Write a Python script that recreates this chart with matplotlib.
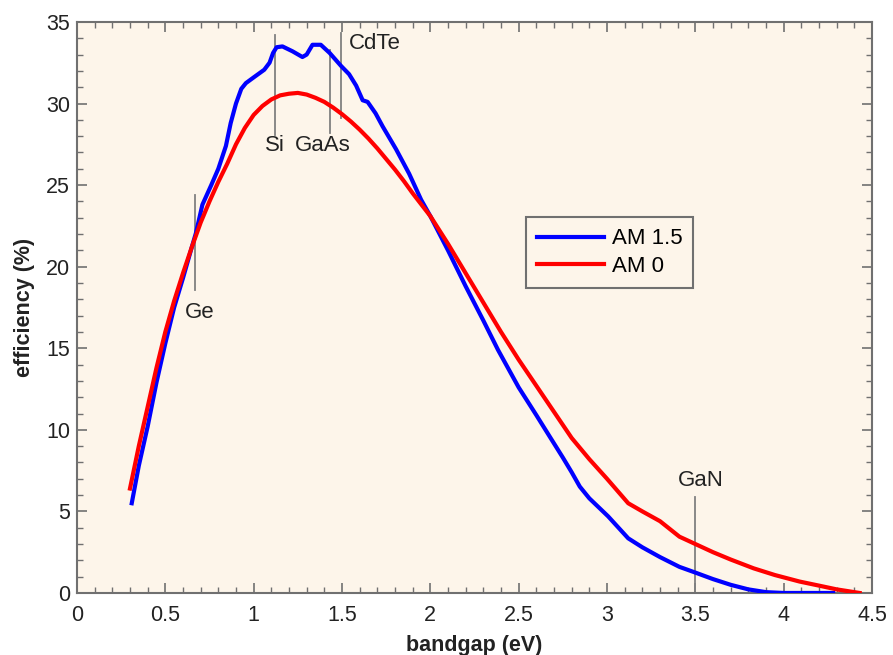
import matplotlib
matplotlib.use("Agg")
import matplotlib.pyplot as plt
from matplotlib.ticker import MultipleLocator
import numpy as np

plt.rcParams['font.family'] = ['Liberation Sans', 'DejaVu Sans']

# AM 1.5 efficiency vs bandgap
am15_x = [0.31, 0.35, 0.40, 0.45, 0.50, 0.55, 0.60, 0.65, 0.673, 0.71, 0.76, 0.80,
          0.843, 0.87, 0.90, 0.93, 0.956, 1.00, 1.06, 1.09, 1.11, 1.13, 1.163, 1.22,
          1.276, 1.30, 1.333, 1.38, 1.43, 1.495, 1.54, 1.58, 1.617, 1.645, 1.69,
          1.73, 1.806, 1.88, 1.948, 2.00, 2.10, 2.20, 2.30, 2.383, 2.50, 2.60,
          2.676, 2.75, 2.80, 2.846, 2.90, 3.006, 3.12, 3.20, 3.30, 3.41, 3.50,
          3.60, 3.70, 3.80, 3.90, 4.00, 4.28]
am15_y = [5.5, 7.8, 10.2, 12.9, 15.3, 17.5, 19.3, 21.2, 22.05, 23.8, 25.0, 26.0,
          27.4, 28.8, 30.0, 30.9, 31.25, 31.6, 32.07, 32.5, 33.1, 33.45, 33.5, 33.2,
          32.85, 33.0, 33.6, 33.6, 33.1, 32.3, 31.8, 31.1, 30.2, 30.1, 29.4,
          28.6, 27.2, 25.7, 24.1, 23.1, 21.0, 18.8, 16.7, 14.9, 12.6, 10.9,
          9.58, 8.3, 7.4, 6.52, 5.8, 4.7, 3.35, 2.8, 2.2, 1.6, 1.25,
          0.85, 0.5, 0.22, 0.05, 0.0, 0.0]

# AM 0 efficiency vs bandgap
am0_x = [0.30, 0.35, 0.40, 0.45, 0.50, 0.55, 0.60, 0.65, 0.70, 0.75, 0.80, 0.85,
         0.90, 0.95, 1.00, 1.05, 1.10, 1.15, 1.20, 1.25, 1.30, 1.35, 1.40, 1.45,
         1.50, 1.55, 1.60, 1.65, 1.70, 1.75, 1.80, 1.85, 1.90, 1.95, 2.00, 2.10,
         2.20, 2.30, 2.40, 2.50, 2.60, 2.70, 2.80, 2.90, 3.00, 3.12, 3.20, 3.30,
         3.41, 3.50, 3.60, 3.70, 3.83, 3.95, 4.09, 4.20, 4.30, 4.43]
am0_y = [6.4, 9.0, 11.4, 13.8, 16.0, 17.9, 19.6, 21.2, 22.7, 24.0, 25.2, 26.3,
         27.5, 28.5, 29.3, 29.85, 30.25, 30.5, 30.6, 30.65, 30.55, 30.35, 30.1, 29.75,
         29.35, 28.9, 28.4, 27.85, 27.25, 26.6, 25.95, 25.25, 24.5, 23.8, 23.1, 21.4,
         19.6, 17.8, 16.0, 14.3, 12.7, 11.1, 9.5, 8.2, 7.0, 5.5, 5.0, 4.4,
         3.45, 3.0, 2.5, 2.05, 1.51, 1.1, 0.7, 0.45, 0.22, 0.0]

# Material markers
mat_names = ['Ge', 'Si', 'GaAs', 'CdTe', 'GaN']
mat_gap = [0.67, 1.12, 1.43, 1.495, 3.5]
mat_lo = [18.6, 28.1, 28.2, 29.1, 0.0]
mat_hi = [24.4, 34.2, 33.3, 34.3, 5.9]
mat_lx = [0.695, 1.12, 1.39, 1.54, 3.53]
mat_ly = [17.2, 27.4, 27.4, 33.7, 6.9]
mat_ha = ['center', 'center', 'center', 'left', 'center']

FS = 16
fig = plt.figure(figsize=(8.93, 6.55), dpi=100)
ax = fig.add_axes([0.0862, 0.0947, 0.8903, 0.8718])
bg = '#FDF5EA'
ax.set_facecolor(bg)

for i in range(len(mat_names)):
    ax.plot([mat_gap[i], mat_gap[i]], [mat_lo[i], mat_hi[i]], color='#808080', lw=1.3, zorder=2)
    ax.text(mat_lx[i], mat_ly[i], mat_names[i], ha=mat_ha[i], va='center', fontsize=FS,
            color='#222222', zorder=4)

ax.plot(am15_x, am15_y, color='#0000FF', lw=3, label='AM 1.5', zorder=3,
        solid_joinstyle='round')
ax.plot(am0_x, am0_y, color='#FF0000', lw=3, label='AM 0', zorder=3,
        solid_joinstyle='round')

ax.set_xlim(0, 4.5)
ax.set_ylim(0, 35)
ax.xaxis.set_minor_locator(MultipleLocator(0.1))
ax.yaxis.set_major_locator(MultipleLocator(5))
ax.yaxis.set_minor_locator(MultipleLocator(1))
ax.set_xticks(np.arange(0, 4.51, 0.5))
ax.set_xticklabels(['0', '0.5', '1', '1.5', '2', '2.5', '3', '3.5', '4', '4.5'])

ax.tick_params(which='both', direction='in', top=True, right=True, colors='#707070',
               labelcolor='#222222', labelsize=15.5)
ax.tick_params(which='major', length=7, width=1.2)
ax.tick_params(which='minor', length=4, width=1.0)
ax.tick_params(axis='x', which='major', pad=9)
ax.tick_params(axis='y', which='major', pad=5)
for s in ax.spines.values():
    s.set_color('#707070')
    s.set_linewidth(1.5)

ax.set_xlabel('bandgap (eV)', fontsize=15.5, fontweight='bold', color='#222222', labelpad=6)
ax.set_ylabel('efficiency (%)', fontsize=15.5, fontweight='bold', color='#222222', labelpad=8)

leg = ax.legend(loc='upper left', bbox_to_anchor=(0.565, 0.658), fontsize=FS,
                frameon=True, fancybox=False, handlelength=3.0, borderpad=0.5,
                labelspacing=0.3, handletextpad=0.35, borderaxespad=0)
leg.get_frame().set_edgecolor('#707070')
leg.get_frame().set_linewidth(1.5)
leg.get_frame().set_facecolor(bg)
leg.get_frame().set_alpha(1)

fig.savefig('out.png', dpi=100, facecolor='white')
